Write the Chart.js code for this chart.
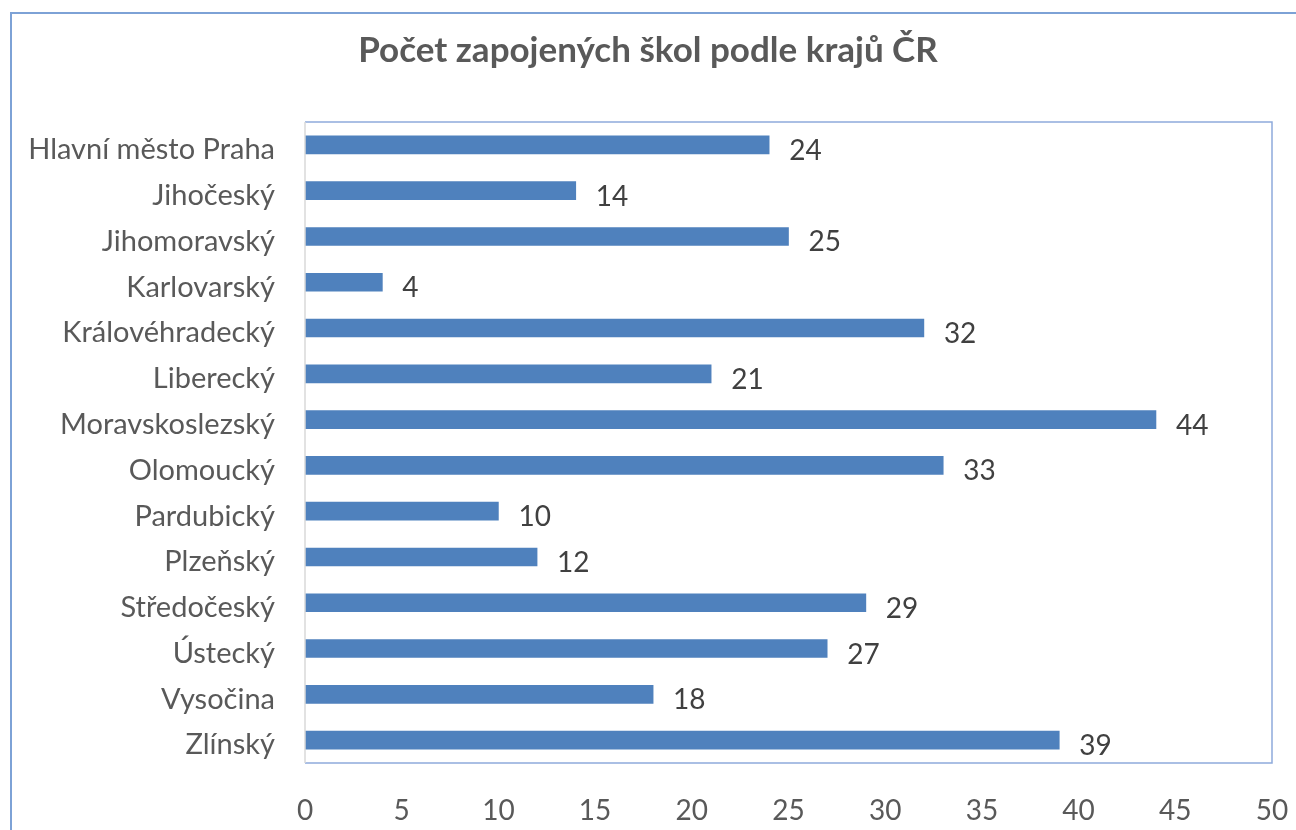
<!DOCTYPE html>
<html>
<head>
<meta charset="utf-8">
<script src="https://cdn.jsdelivr.net/npm/chart.js@4"></script>
<style>
  html, body { margin: 0; padding: 0; background: #fff; }
  #wrap { width: 1296px; height: 830px; }
</style>
</head>
<body>
<div id="wrap"><canvas id="chart"></canvas></div>
<script>
const regions = ['Hlavní město Praha', 'Jihočeský', 'Jihomoravský', 'Karlovarský', 'Královéhradecký',
  'Liberecký', 'Moravskoslezský', 'Olomoucký', 'Pardubický', 'Plzeňský', 'Středočeský',
  'Ústecký', 'Vysočina', 'Zlínský']
const schools = [24, 14, 25, 4, 32, 21, 44, 33, 10, 12, 29, 27, 18, 39]
const chartTitle = 'Počet zapojených škol podle krajů ČR'

const FONT = 'Lato, "Open Sans", sans-serif'

// okraje kolem grafu a ploch (jako v Excelu)
const framePlugin = {
  id: 'frame',
  afterDraw(chart) {
    const { ctx, chartArea: a } = chart
    ctx.save()
    ctx.strokeStyle = '#7da2d6'
    ctx.lineWidth = 2
    ctx.beginPath()
    ctx.moveTo(11, 900)
    ctx.lineTo(11, 13)
    ctx.lineTo(1400, 13)
    ctx.stroke()

    ctx.lineWidth = 1.5
    ctx.strokeStyle = '#8eaadb'
    ctx.beginPath()
    ctx.moveTo(a.left, a.top)
    ctx.lineTo(a.right, a.top)
    ctx.lineTo(a.right, a.bottom)
    ctx.lineTo(a.left, a.bottom)
    ctx.stroke()
    ctx.strokeStyle = '#d9d9d9'
    ctx.beginPath()
    ctx.moveTo(a.left, a.top)
    ctx.lineTo(a.left, a.bottom)
    ctx.stroke()
    ctx.restore()
  }
}

const valueLabels = {
  id: 'valueLabels',
  afterDatasetsDraw(chart) {
    const { ctx } = chart
    ctx.save()
    ctx.font = '28px ' + FONT
    ctx.fillStyle = '#404040'
    ctx.textAlign = 'left'
    ctx.textBaseline = 'middle'
    chart.getDatasetMeta(0).data.forEach((bar, i) => {
      ctx.fillText(String(schools[i]), bar.x + 20, bar.y + 6)
    })
    ctx.restore()
  }
}

new Chart(document.getElementById('chart'), {
  type: 'bar',
  data: {
    labels: regions,
    datasets: [{
      data: schools,
      backgroundColor: '#4f81bd',
      barThickness: 18
    }]
  },
  options: {
    indexAxis: 'y',
    responsive: true,
    maintainAspectRatio: false,
    animation: false,
    layout: { padding: { top: 0, right: 0, bottom: 0, left: 0 } },
    plugins: {
      legend: { display: false },
      tooltip: { enabled: false },
      title: {
        display: true,
        text: chartTitle,
        color: '#595959',
        font: { family: FONT, size: 35, weight: 'bold', lineHeight: 1.2 },
        padding: { top: 30, bottom: 50 }
      }
    },
    scales: {
      x: {
        min: 0,
        max: 50,
        ticks: {
          stepSize: 5,
          color: '#595959',
          font: { family: FONT, size: 28 },
          padding: 31
        },
        grid: { display: false, drawTicks: false },
        border: { display: false },
        afterFit(scale) {
          scale.height = 67
          scale.paddingRight = 24
        }
      },
      y: {
        ticks: {
          color: '#595959',
          font: { family: FONT, size: 29 },
          padding: 30,
          labelOffset: 5
        },
        grid: { display: false, drawTicks: false },
        border: { display: false },
        afterFit(scale) { scale.width = 305 }
      }
    }
  },
  plugins: [framePlugin, valueLabels]
})
</script>
</body>
</html>
